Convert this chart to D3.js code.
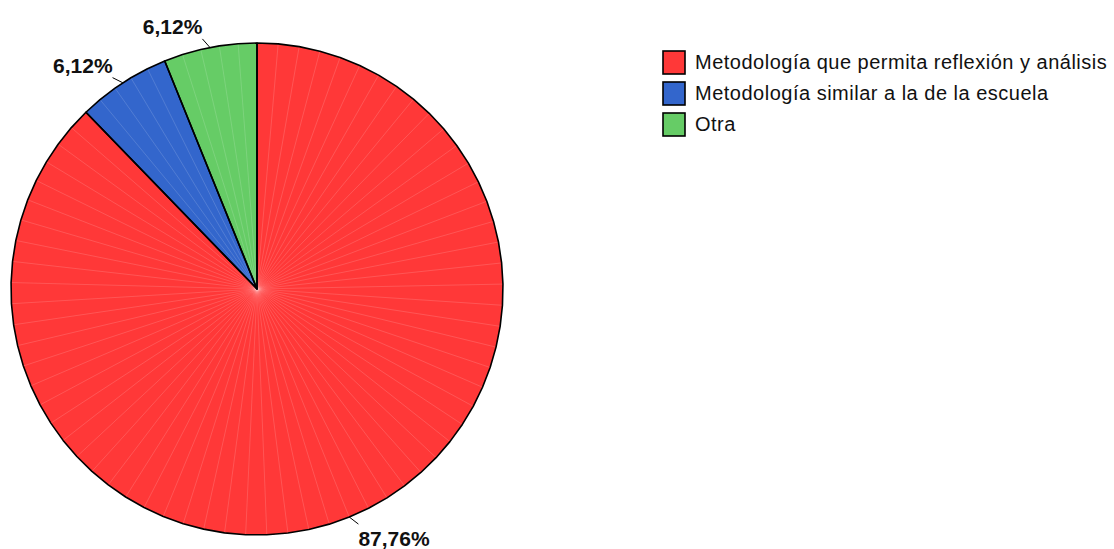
<!DOCTYPE html>
<html>
<head>
<meta charset="utf-8">
<script src="https://cdn.jsdelivr.net/npm/d3@7"></script>
<style>
  body { margin: 0; background: #fff; }
  svg { display: block; font-family: "Liberation Sans", Arial, sans-serif; }
</style>
</head>
<body>
<div id="chart"></div>
<script>
// data
var categories = ['Metodología que permita reflexión y análisis', 'Metodología similar a la de la escuela', 'Otra'];
var values = [87.76, 6.12, 6.12];
var valueLabels = ['87,76%', '6,12%', '6,12%'];
var colors = ['#ff3838', '#3366cc', '#66cc66'];

var width = 1114, height = 549;
var cx = 257, cy = 289, radius = 246;

var svg = d3.select('#chart').append('svg')
	.attr('width', width)
	.attr('height', height);

var pie = d3.pie().sort(null).value(function(d) { return d; });
var arcs = pie(values);

var g = svg.append('g').attr('transform', 'translate(' + cx + ',' + cy + ')');

// the original pie is a polygon, a few degrees per facet
function facetPoints(a) {
	var span = a.endAngle - a.startAngle;
	var n = Math.max(1, Math.ceil(span / (5 * Math.PI / 180)));
	var pts = [];
	for (var i = 0; i <= n; i++) {
		pts.push(d3.pointRadial(a.startAngle + span * i / n, radius));
	}
	return pts;
}

arcs.forEach(function(a, i) {
	var pts = facetPoints(a);
	g.append('path')
		.attr('d', 'M0,0L' + pts.map(function(p) { return p.join(','); }).join('L') + 'Z')
		.attr('fill', colors[i])
		.attr('stroke', 'none');

	// faint facet seams
	g.selectAll(null)
		.data(pts.slice(1, -1))
		.enter().append('line')
		.attr('x1', 0).attr('y1', 0)
		.attr('x2', function(p) { return p[0]; })
		.attr('y2', function(p) { return p[1]; })
		.attr('stroke', '#fff')
		.attr('stroke-opacity', 0.25)
		.attr('stroke-width', 0.6);
});

// outlines on top
arcs.forEach(function(a, i) {
	var pts = facetPoints(a);
	g.append('path')
		.attr('d', 'M0,0L' + pts.map(function(p) { return p.join(','); }).join('L') + 'Z')
		.attr('fill', 'none')
		.attr('stroke', '#000')
		.attr('stroke-width', 1.6)
		.attr('stroke-linejoin', 'round');
});

// leader lines + labels
var tilt = -1.3 * Math.PI / 180;
arcs.forEach(function(a, i) {
	var mid = (a.startAngle + a.endAngle) / 2;
	var p1 = d3.pointRadial(mid, radius);
	var p2 = d3.pointRadial(mid + tilt, radius + 10);
	g.append('line')
		.attr('x1', p1[0]).attr('y1', p1[1])
		.attr('x2', p2[0]).attr('y2', p2[1])
		.attr('stroke', '#000')
		.attr('stroke-width', 1);

	var left = p2[0] < 0;
	var up = p2[1] < 0;
	g.append('text')
		.attr('x', p2[0])
		.attr('y', up ? p2[1] - 5 : p2[1] + 22)
		.attr('text-anchor', left ? 'end' : 'start')
		.attr('font-size', 21)
		.attr('font-weight', 'bold')
		.attr('fill', '#111')
		.text(valueLabels[i]);
});

// legend
var legend = svg.append('g').attr('transform', 'translate(663,51)');
var rows = legend.selectAll('g')
	.data(categories)
	.enter().append('g')
	.attr('transform', function(d, i) { return 'translate(0,' + (i * 31) + ')'; });

rows.append('rect')
	.attr('width', 22).attr('height', 23)
	.attr('fill', function(d, i) { return colors[i]; })
	.attr('stroke', '#000')
	.attr('stroke-width', 1.6);

rows.append('text')
	.attr('x', 32)
	.attr('y', 18)
	.attr('font-size', 20)
	.attr('letter-spacing', 0.5)
	.attr('fill', '#111')
	.text(function(d) { return d; });
</script>
</body>
</html>
